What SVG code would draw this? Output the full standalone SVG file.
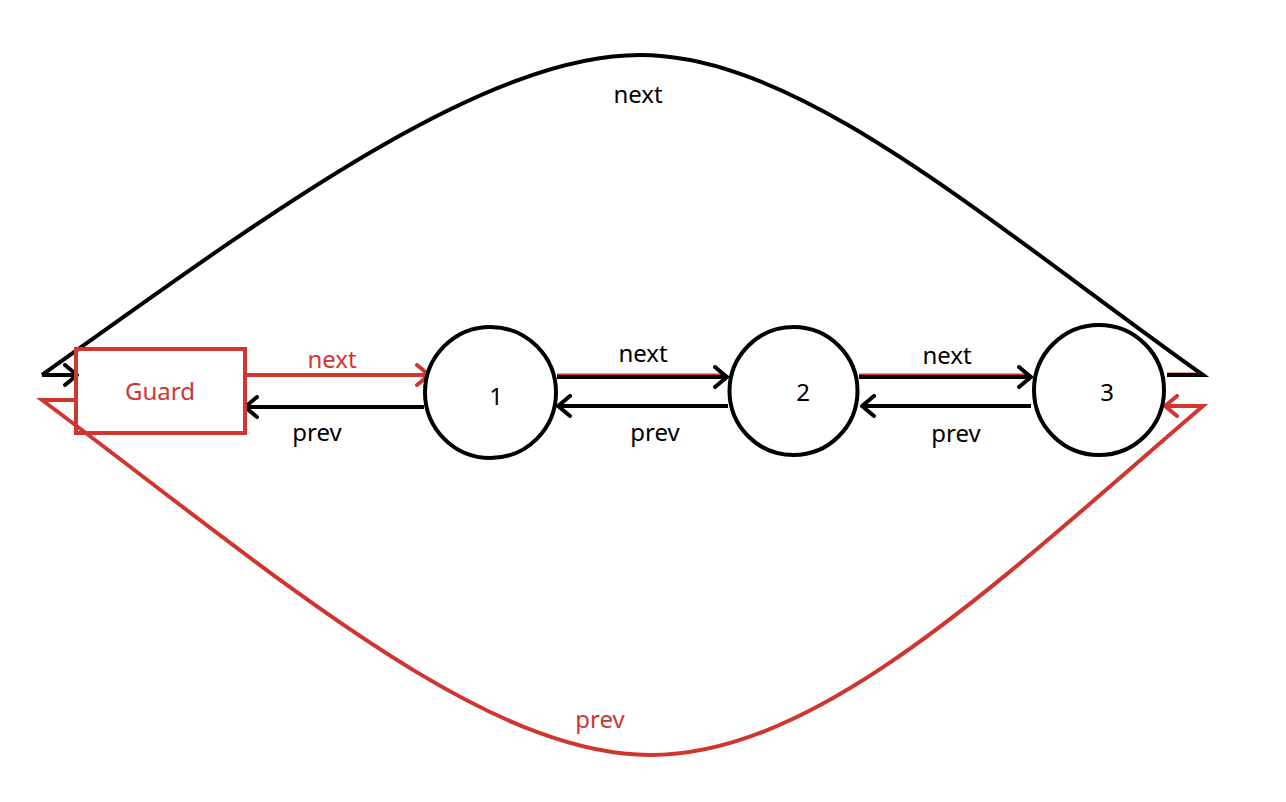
<svg xmlns="http://www.w3.org/2000/svg" width="1286" height="802" viewBox="0 0 1286 802">
<style>
.lbl{font-family:"Noto Sans","Open Sans","DejaVu Sans",sans-serif;font-size:24px;text-anchor:middle;fill:#000}
.red{fill:#d13530}
.k{stroke:#000;stroke-width:4;fill:none}
.r{stroke:#d13530;stroke-width:4;fill:none}
.node{fill:#fff;stroke:#000;stroke-width:4}
</style>
<defs>
<marker id="ak" viewBox="0 0 16 24" refX="14" refY="12" markerWidth="16" markerHeight="24" markerUnits="userSpaceOnUse" orient="auto">
<path d="M2,2 L14,12 L2,22" fill="none" stroke="#000" stroke-width="4" stroke-linecap="round" stroke-linejoin="round"/>
</marker>
<marker id="ar" viewBox="0 0 16 24" refX="14" refY="12" markerWidth="16" markerHeight="24" markerUnits="userSpaceOnUse" orient="auto">
<path d="M2,2 L14,12 L2,22" fill="none" stroke="#d13530" stroke-width="4" stroke-linecap="round" stroke-linejoin="round"/>
</marker>
</defs>
<rect width="1286" height="802" fill="#fff"/>
<g id="connectors">
<line x1="1167" y1="373.5" x2="1195" y2="373.5" stroke="#d13530" stroke-width="2"/>
<path class="k" d="M42,375 C260,220 480,55 640,55 C800,55 985,220 1203,375 L1167,375"/>
<path class="k" d="M42,375 L77,375" marker-end="url(#ak)"/>
<path class="r" d="M74,400 L42,400 C270,570 480,755 650,755 C820,755 1000,580 1203,406 L1165,406" marker-end="url(#ar)"/>
<path class="r" d="M247,375 L429,375" marker-end="url(#ar)"/>
<path class="k" d="M424,407 L245,407" marker-end="url(#ak)"/>
<line x1="557" y1="374.5" x2="722" y2="374.5" stroke="#d13530" stroke-width="2"/>
<path class="k" d="M557,377 L727,377" marker-end="url(#ak)"/>
<path class="k" d="M728,406 L558,406" marker-end="url(#ak)"/>
<line x1="859" y1="374.5" x2="1026" y2="374.5" stroke="#d13530" stroke-width="2"/>
<path class="k" d="M859,377 L1031,377" marker-end="url(#ak)"/>
<path class="k" d="M1031,406 L862,406" marker-end="url(#ak)"/>
<text class="lbl" x="638" y="103">next</text>
<text class="lbl red" x="600" y="728">prev</text>
<text class="lbl red" x="332" y="368">next</text>
<text class="lbl" x="317" y="441">prev</text>
<text class="lbl" x="643" y="362">next</text>
<text class="lbl" x="655" y="441">prev</text>
<text class="lbl" x="947" y="364">next</text>
<text class="lbl" x="956" y="442">prev</text>
</g>
<g id="guard">
<rect x="76" y="349" width="169" height="84" fill="none" stroke="#d13530" stroke-width="4"/>
<text class="lbl red" x="160" y="400">Guard</text>
</g>
<g id="n1">
<circle class="node" cx="490.5" cy="392.5" r="65.5"/>
<text class="lbl" x="496" y="405">1</text>
</g>
<g id="n2">
<circle class="node" cx="793.5" cy="391" r="64"/>
<text class="lbl" x="803" y="401">2</text>
</g>
<g id="n3">
<circle class="node" cx="1099" cy="390" r="65"/>
<text class="lbl" x="1107" y="401">3</text>
</g>
</svg>
